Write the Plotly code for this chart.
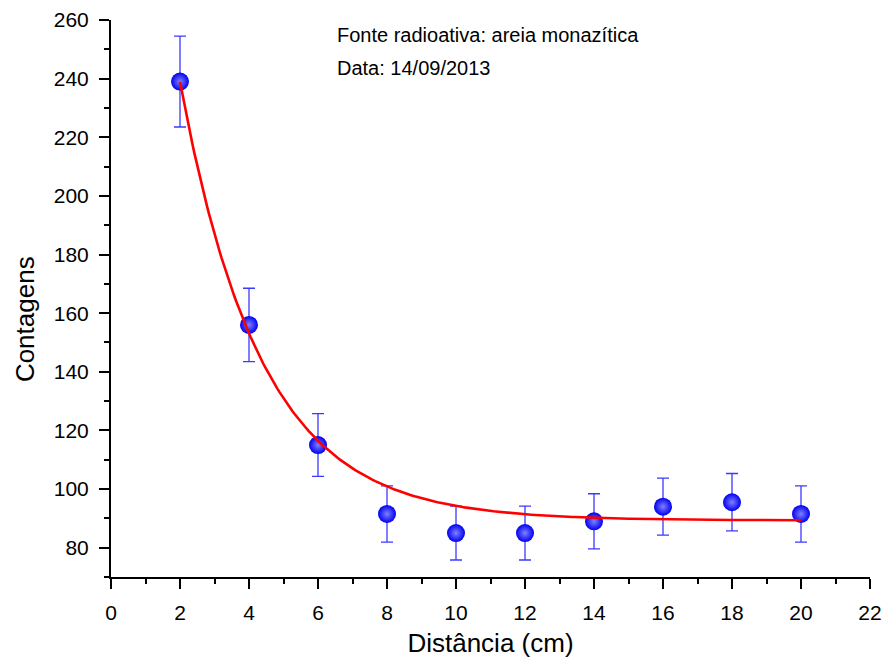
import numpy as np
import plotly.graph_objects as go

# Measured counts vs. source distance
distancia_cm = [2, 4, 6, 8, 10, 12, 14, 16, 18, 20]
contagens = [239, 156, 115, 91.5, 85, 85, 89, 94, 95.5, 91.5]
erro = [15.5, 12.5, 10.7, 9.6, 9.2, 9.2, 9.4, 9.7, 9.8, 9.6]

# Exponential decay fit: y = y0 + A * exp(-x / t)
fit_y0 = 89.3
fit_A = 351.0
fit_t = 2.346
fit_x = np.linspace(2, 20, 300)
fit_y = fit_y0 + fit_A * np.exp(-fit_x / fit_t)

x_ticks = list(range(0, 23, 2))
y_ticks = list(range(80, 261, 20))

FONT = "Liberation Sans, Arial, sans-serif"

fig = go.Figure()

fig.add_trace(go.Scatter(
    x=distancia_cm, y=contagens, mode="markers",
    error_y=dict(type="data", array=erro, visible=True,
                 color="#3a3aff", thickness=1.3, width=6),
    marker=dict(size=18, color="#0000f0",
                gradient=dict(type="radial", color="#8080ff"),
                line=dict(width=0)),
    showlegend=False,
))

fig.add_trace(go.Scatter(
    x=fit_x, y=fit_y, mode="lines",
    line=dict(color="#ff0000", width=2.6),
    showlegend=False,
))

axis_common = dict(
    showline=True, linecolor="black", linewidth=2,
    ticks="outside", ticklen=10, tickwidth=2, tickcolor="black",
    showgrid=False, zeroline=False, mirror=False, automargin=False,
    tickfont=dict(family=FONT, size=21, color="black"),
)

fig.update_xaxes(
    range=[0, 22], tickvals=x_ticks,
    minor=dict(dtick=1, ticks="outside", ticklen=5, tickwidth=2, tickcolor="black"),
    title=dict(text="Distância (cm)", font=dict(family=FONT, size=26, color="black"), standoff=11),
    ticklabelstandoff=6,
    **axis_common,
)
fig.update_yaxes(
    range=[70, 260], tickvals=y_ticks,
    minor=dict(dtick=10, ticks="outside", ticklen=5, tickwidth=2, tickcolor="black"),
    ticklabelstandoff=6,
    **axis_common,
)

# Y-axis title placed slightly below the plot's vertical centre
fig.add_annotation(text="Contagens", xref="paper", yref="paper",
                   x=-0.1133, y=0.463, xanchor="center", yanchor="middle",
                   textangle=-90, showarrow=False,
                   font=dict(family=FONT, size=26, color="black"))

fig.add_annotation(text="Fonte radioativa: areia monazítica", xref="paper", yref="paper",
                   x=0.295, y=0.973, xanchor="left", yanchor="middle", showarrow=False,
                   font=dict(family=FONT, size=20, color="black"))
fig.add_annotation(text="Data: 14/09/2013", xref="paper", yref="paper",
                   x=0.295, y=0.914, xanchor="left", yanchor="middle", showarrow=False,
                   font=dict(family=FONT, size=20, color="black"))

fig.update_layout(
    width=887, height=664,
    margin=dict(l=111, r=17, t=20, b=87),
    paper_bgcolor="white", plot_bgcolor="white",
    font=dict(family=FONT, color="black"),
)

fig.write_html("out.html")
